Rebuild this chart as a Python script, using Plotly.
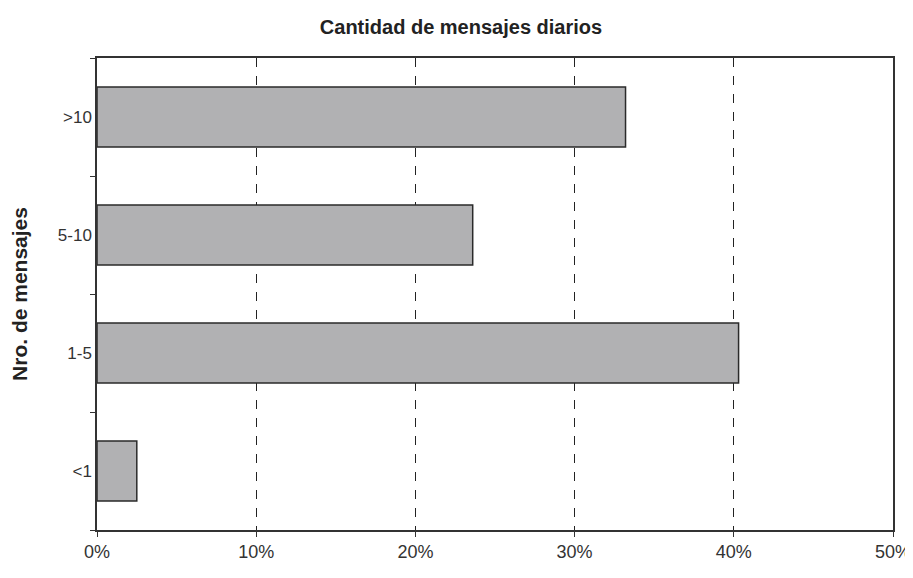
import plotly.graph_objects as go

# Cantidad de mensajes diarios
categorias = ["<1", "1-5", "5-10", ">10"]
porcentajes = [0.025, 0.403, 0.236, 0.332]
ticks_x = [0, 0.1, 0.2, 0.3, 0.4, 0.5]
ticks_x_txt = ["0%", "10%", "20%", "30%", "40%", "50%"]

fuente = "Liberation Sans, Arial, sans-serif"

fig = go.Figure()
fig.add_trace(go.Bar(
    y=categorias,
    x=porcentajes,
    orientation="h",
    width=0.51,
    marker=dict(color="#b1b1b3", line=dict(color="#2a2a2a", width=1.5)),
))

# el body de la pagina tiene 8px de margen, se descuenta del tamaño
fig.update_layout(
    width=905, height=562,
    margin=dict(l=89, r=20, t=50, b=40),
    paper_bgcolor="white",
    plot_bgcolor="white",
    showlegend=False,
    font=dict(family=fuente, color="#333333", size=18),
    title=dict(text="<b>Cantidad de mensajes diarios</b>", x=453 / 905, xanchor="center",
               y=1 - 19 / 562, yanchor="middle",
               font=dict(size=20, color="#222222", family=fuente)),
    xaxis=dict(
        range=[0, 0.5], tickvals=ticks_x, ticktext=ticks_x_txt,
        showgrid=True, gridcolor="#222222", griddash="dash", gridwidth=1,
        showline=True, linecolor="#333333", linewidth=1.5, mirror=True,
        ticks="outside", ticklen=5, tickcolor="#333333",
        ticklabeloverflow="allow",
        zeroline=False, fixedrange=True, automargin=False,
    ),
    yaxis=dict(
        categoryorder="array", categoryarray=categorias,
        range=[-0.5, 3.5],
        title=dict(text="<b>Nro. de mensajes</b>", standoff=33,
                   font=dict(size=21, color="#222222", family=fuente)),
        showline=True, linecolor="#333333", linewidth=1.5, mirror=True,
        ticks="outside", ticklen=5, tickcolor="#333333", tickson="boundaries",
        tickfont=dict(size=17),
        showgrid=False, fixedrange=True, automargin=False,
    ),
)

fig.write_html("out.html")
